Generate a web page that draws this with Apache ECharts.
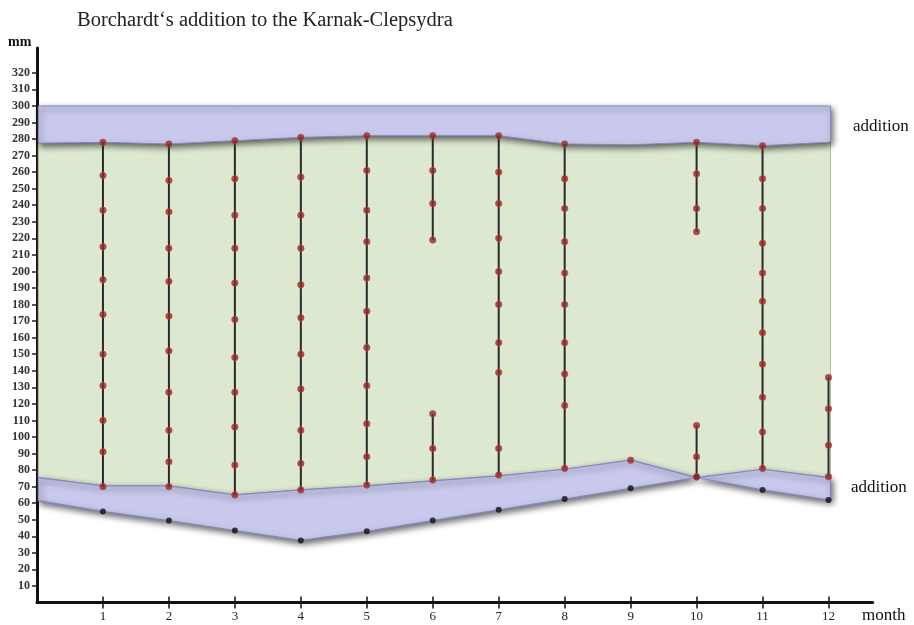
<!DOCTYPE html>
<html>
<head>
<meta charset="utf-8">
<script src="https://cdn.jsdelivr.net/npm/echarts@6/dist/echarts.min.js"></script>
<style>
html,body{margin:0;padding:0;background:#fff;}
#chart{width:914px;height:625px;}
</style>
</head>
<body>
<div id="chart"></div>
<script>
// ---- data ----
const months = [1,2,3,4,5,6,7,8,9,10,11,12];
const yTickValues = [10,20,30,40,50,60,70,80,90,100,110,120,130,140,150,160,170,180,190,200,210,220,230,240,250,260,270,280,290,300,310,320];
const redDots = [
  [278,258,237,215,195,174,150,131,110,91,70],
  [277,255,236,214,194,173,152,127,104,85,70],
  [279,256,234,214,193,171,148,127,106,83,65],
  [281,257,234,214,192,172,150,129,104,84,68],
  [282,261,237,218,196,176,154,131,108,88,71],
  [282,261,241,219,114,93,74],
  [282,260,241,220,200,180,157,139,93,77],
  [277,256,238,218,199,180,157,138,119,81],
  [86],
  [278,259,238,224,107,88,76],
  [276,256,238,217,199,182,163,144,124,103,81],
  [136,117,95,76]
];
const blackDots = [55,49.5,43.5,37.5,43,49.5,56,62.5,69,75.5,68,62];
const segments = [
  [1,278,70],[2,277,70],[3,279,65],[4,281,68],[5,282,71],
  [6,282,219],[6,114,74],[7,282,77],[8,277,81],
  [10,278,224],[10,107,76],[11,276,81],[12,136,76]
];
const edgeX = [0.02,1,2,3,4,5,6,7,8,9,10,11,12,12.03];
const upperBandTop = 300;
const upperBandBottom = [277.5,278,277,279,281,282,282,282,277,276.5,278,276,278,278.5];
const lowerBandTop = [75.5,70.5,70.5,65,68,70.5,73.5,76.5,80.5,86,75.5,80.5,75.5,75.5];
const lowerBandBottom = [61.5,55,49.5,43.5,37.5,43,49.5,56,62.5,69,75.5,68,62,62];

// ---- build ----
const redData = [];
redDots.forEach((col, i) => col.forEach(v => redData.push([months[i], v])));
const blackData = blackDots.map((v, i) => [months[i], v]);

function polyFrom(api, topArr, bottomArr) {
  const pts = [];
  for (let i = 0; i < edgeX.length; i++) {
    const t = Array.isArray(topArr) ? topArr[i] : topArr;
    pts.push(api.coord([edgeX[i], t]));
  }
  for (let i = edgeX.length - 1; i >= 0; i--) {
    pts.push(api.coord([edgeX[i], bottomArr[i]]));
  }
  return pts;
}

const serif = "'Liberation Serif', 'DejaVu Serif', serif";
const chart = echarts.init(document.getElementById('chart'), null, {renderer: 'canvas'});

const option = {
  animation: false,
  backgroundColor: '#fff',
  title: {
    text: 'Borchardt\u2018s addition to the Karnak-Clepsydra',
    left: 72, top: 5,
    textStyle: {fontFamily: serif, fontSize: 20.5, fontWeight: 'normal', color: '#222'}
  },
  grid: {left: 37, right: 41.3, top: 48, bottom: 22.5},
  xAxis: [{
    type: 'value', min: 0, max: 12.67, interval: 1,
    splitLine: {show: false},
    axisLine: {show: true, onZero: false, lineStyle: {color: '#111', width: 3}},
    axisTick: {show: true, customValues: months, length: 6, lineStyle: {color: '#111', width: 1.5}},
    axisLabel: {customValues: months, fontFamily: serif, fontSize: 13, color: '#222', margin: 8}
  }, {
    type: 'value', min: 0, max: 12.67, interval: 1, position: 'bottom',
    splitLine: {show: false},
    axisLine: {show: false},
    axisTick: {show: true, inside: true, customValues: months, length: 6, lineStyle: {color: '#111', width: 1.5}},
    axisLabel: {show: false}
  }],
  yAxis: {
    type: 'value', min: 0, max: 335, interval: 10,
    splitLine: {show: false},
    axisLine: {show: true, onZero: false, lineStyle: {color: '#111', width: 3}},
    axisTick: {show: true, customValues: yTickValues, length: 5, lineStyle: {color: '#222', width: 1.5}},
    axisLabel: {customValues: yTickValues, fontFamily: serif, fontSize: 12, fontWeight: 'bold', color: '#333', margin: 7}
  },
  graphic: [
    {type: 'text', left: 8, top: 35, style: {text: 'mm', font: "bold 14px 'Liberation Serif'", fill: '#111'}},
    {type: 'text', left: 853, top: 118, style: {text: 'addition', font: "17px 'Liberation Serif'", fill: '#111'}},
    {type: 'text', left: 851, top: 479, style: {text: 'addition', font: "17px 'Liberation Serif'", fill: '#111'}},
    {type: 'text', left: 862, top: 607, style: {text: 'month', font: "17px 'Liberation Serif'", fill: '#111'}}
  ],
  series: [
    {
      type: 'custom', name: 'green', z: 1, data: [0], silent: true,
      renderItem: (params, api) => ({
        type: 'polygon',
        shape: {points: polyFrom(api, upperBandBottom, lowerBandTop)},
        style: {fill: '#dde8d0', stroke: '#a9c39a', lineWidth: 1}
      })
    },
    {
      type: 'custom', name: 'upper addition', z: 2, data: [0], silent: true,
      renderItem: (params, api) => ({
        type: 'polygon',
        shape: {points: polyFrom(api, upperBandTop, upperBandBottom)},
        style: {fill: '#c8c9ec', stroke: '#8588c4', lineWidth: 1,
          shadowBlur: 6, shadowOffsetX: 2, shadowOffsetY: 3, shadowColor: 'rgba(0,0,0,0.6)'}
      })
    },
    {
      type: 'custom', name: 'lower addition', z: 2, data: [0], silent: true,
      renderItem: (params, api) => ({
        type: 'polygon',
        shape: {points: polyFrom(api, lowerBandTop, lowerBandBottom)},
        style: {fill: '#c8c9ec', stroke: '#8588c4', lineWidth: 1.2,
          shadowBlur: 6, shadowOffsetX: 2, shadowOffsetY: 3, shadowColor: 'rgba(0,0,0,0.6)'}
      })
    },
    {
      type: 'custom', name: 'segments', z: 3, data: segments, silent: true,
      renderItem: (params, api) => {
        const a = api.coord([api.value(0), api.value(1)]);
        const b = api.coord([api.value(0), api.value(2)]);
        return {type: 'line', shape: {x1: a[0], y1: a[1], x2: b[0], y2: b[1]},
          style: {stroke: '#2a2a2a', lineWidth: 2}};
      },
      encode: {x: 0, y: [1, 2]}
    },
    {
      type: 'scatter', name: 'black', z: 4, data: blackData, symbolSize: 6,
      itemStyle: {color: '#111'}
    },
    {
      type: 'scatter', name: 'red', z: 5, data: redData, symbolSize: 6.5,
      itemStyle: {color: '#8e2a2a', borderColor: '#c24a4a', borderWidth: 0.8}
    }
  ]
};
chart.setOption(option);
</script>
</body>
</html>
